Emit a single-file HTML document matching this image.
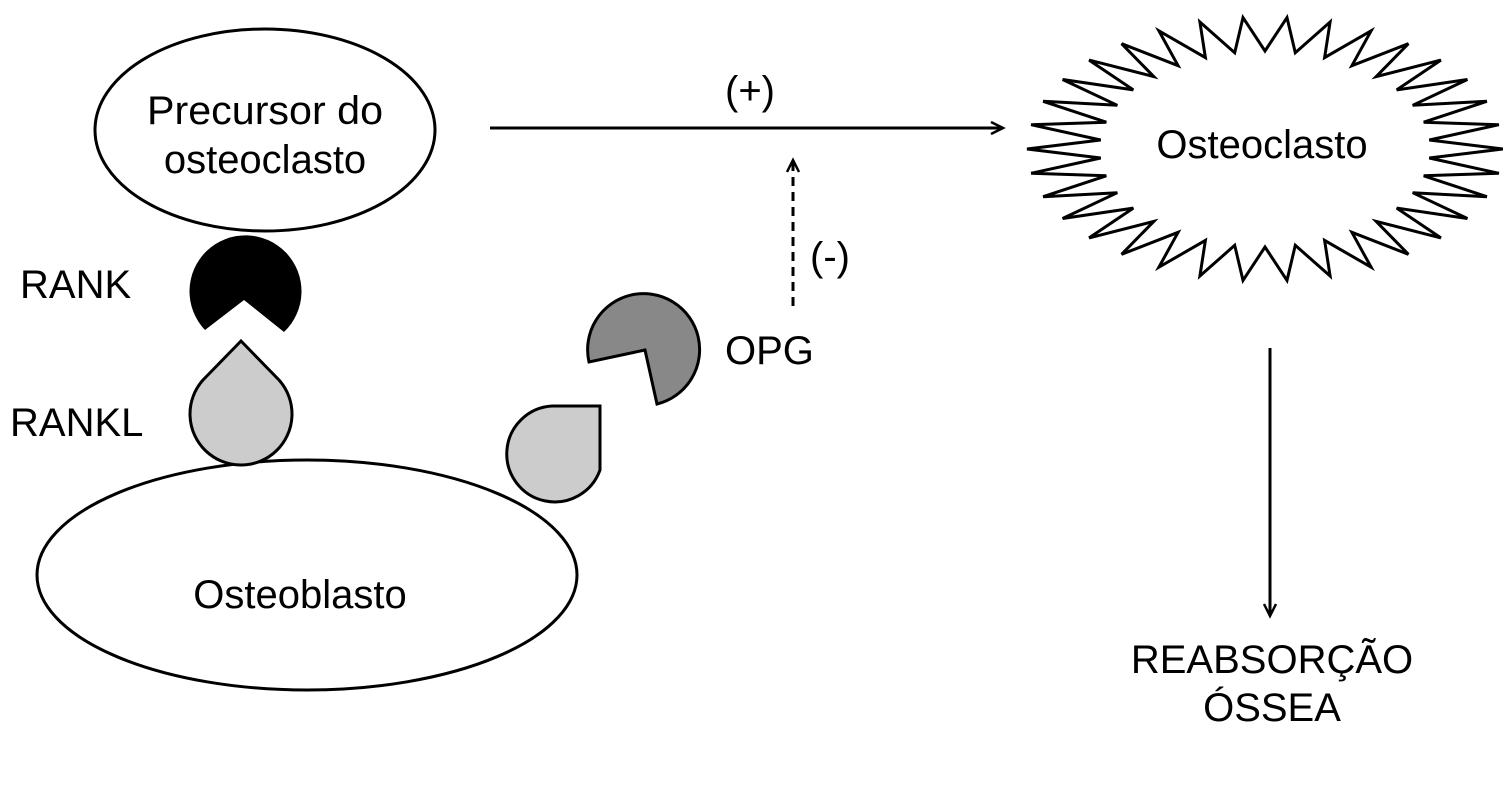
<!DOCTYPE html>
<html><head><meta charset="utf-8"><style>
body{margin:0;background:#fff;width:1503px;height:790px;overflow:hidden}
svg text{font-family:"Liberation Sans",Arial,sans-serif;font-size:40px;fill:#000}
</style></head><body>
<svg width="1503" height="790" viewBox="0 0 1503 790" xmlns="http://www.w3.org/2000/svg">
<defs>
<marker id="ah" markerWidth="20" markerHeight="20" refX="16" refY="10" orient="auto" markerUnits="userSpaceOnUse">
<path d="M4,4 L16,10 L4,16" fill="none" stroke="#000" stroke-width="2.5"/></marker>
</defs>
<ellipse cx="265" cy="130" rx="170" ry="101" fill="#fff" stroke="#000" stroke-width="3"/>
<text x="265" y="124" text-anchor="middle" textLength="236" lengthAdjust="spacingAndGlyphs">Precursor do</text>
<text x="265" y="173" text-anchor="middle">osteoclasto</text>
<ellipse cx="307" cy="575" rx="270" ry="115" fill="#fff" stroke="#000" stroke-width="3"/>
<text x="300" y="608" text-anchor="middle">Osteoblasto</text>
<!-- RANK -->
<path d="M244,300 L205,330 A56,56 0 1 1 284,332 Z" fill="#000"/>
<!-- RANKL 1 -->
<path d="M241,341 L279,380 A51,51 0 1 1 203,380 Z" fill="#ccc" stroke="#000" stroke-width="3"/>
<!-- RANKL 2 -->
<path d="M600,406 L600,470 A48,48 0 1 1 552,406 Z" fill="#ccc" stroke="#000" stroke-width="3"/>
<!-- OPG -->
<path d="M645,350 L589,362 A56,56 0 1 1 657,404 Z" fill="#888" stroke="#000" stroke-width="3"/>
<text x="725" y="364">OPG</text>
<text x="20" y="298">RANK</text>
<text x="10" y="436">RANKL</text>
<line x1="490" y1="128" x2="1003" y2="128" stroke="#000" stroke-width="3" marker-end="url(#ah)"/>
<text x="750" y="104" text-anchor="middle">(+)</text>
<line x1="793" y1="306" x2="793" y2="160" stroke="#000" stroke-width="3" stroke-dasharray="9,6" marker-end="url(#ah)"/>
<text x="830" y="270" text-anchor="middle">(-)</text>
<polygon id="star" fill="#fff" stroke="#000" stroke-width="3"/>
<text x="1262" y="158" text-anchor="middle">Osteoclasto</text>
<line x1="1270" y1="348" x2="1270" y2="616" stroke="#000" stroke-width="3" marker-end="url(#ah)"/>
<text x="1272" y="673" text-anchor="middle">REABSORÇÃO</text>
<text x="1272" y="721" text-anchor="middle">ÓSSEA</text>
</svg>
<script>
var cx=1265,cy=149,n=34,pts=[];
for(var i=0;i<2*n;i++){var a=Math.PI*i/n;var o=i%2==0;var rx=o?238:165,ry=o?132:98;
pts.push((cx+rx*Math.cos(a)).toFixed(1)+","+(cy+ry*Math.sin(a)).toFixed(1));}
document.getElementById("star").setAttribute("points",pts.join(" "));
</script>
</body></html>
